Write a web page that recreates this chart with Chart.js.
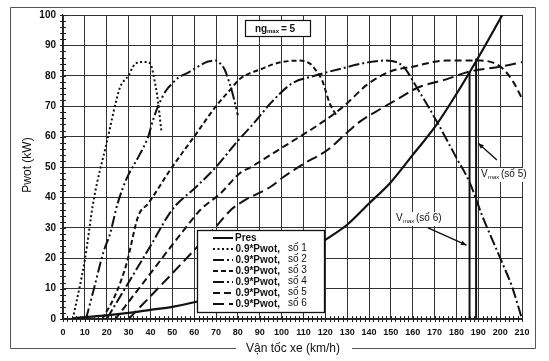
<!DOCTYPE html>
<html>
<head>
<meta charset="utf-8">
<script src="https://cdn.jsdelivr.net/npm/chart.js@4"></script>
<style>
  html, body { margin: 0; padding: 0; background: #fff; }
</style>
</head>
<body>
<canvas id="grafica" width="549" height="361"></canvas>
<script>
// Pres (resistance power)
const presV = [5, 10, 20, 30, 40, 50, 60, 70, 80, 90, 100, 110, 120, 130, 140, 150, 160, 170, 180, 190, 201];
const presP = [0.3, 0.6, 1.2, 2, 3, 4, 5.5, 7.5, 9.8, 12.8, 16.5, 21, 26, 31, 38, 45, 54, 63, 74, 86, 100];

// 0.9*Pwot per gear
const so1V = [4.5, 10, 14, 20, 26, 28, 30, 32, 35, 39, 40.5, 42, 43, 45];
const so1P = [0, 19.5, 39, 58, 76, 78.5, 80, 83, 84.5, 84.5, 83, 78, 74, 62];
const so2V = [10.5, 14, 18.5, 21.5, 25, 29, 35, 39, 41, 43.5, 47, 50, 53, 57, 63, 66, 70, 72, 74, 76, 78, 80];
const so2P = [0, 9.5, 22, 28, 38, 46, 54, 60, 65, 70, 75, 77.5, 79.5, 81, 83.5, 84.6, 85, 84, 82, 78, 73, 67];
const so3V = [18, 24, 29, 34.5, 39, 49, 61, 70, 76, 81, 86, 90, 95, 100, 108, 113, 116, 118.5, 122, 125];
const so3P = [0, 8, 18, 34, 38, 49, 61, 70, 75, 79, 81, 82, 83.5, 84.5, 85, 84, 81.5, 78.6, 71, 67];
const so4V = [20, 30, 40, 50, 61, 70, 79, 88, 95, 105, 113, 128, 140, 147, 155, 162, 171, 180, 186, 192, 201, 205.5, 210];
const so4P = [0, 12, 24, 36, 43.5, 50, 57.8, 65, 71, 77.6, 79.6, 82.5, 84.5, 85, 83.5, 76, 65, 53, 45, 33.6, 18.4, 10.5, 0];
const so5V = [24, 40, 55, 63, 72, 81, 86, 95, 105, 115, 125, 130, 139, 150, 160, 175, 185, 191, 196, 201, 206, 210];
const so5P = [0, 15, 29, 36, 41.3, 48, 50, 54, 58.5, 63, 68, 71, 77, 81.5, 83, 85, 85, 85, 84.5, 82.5, 78, 72.5];
const so6V = [30, 50, 70, 77, 83, 95, 101, 110, 121, 131, 136, 145, 154, 162, 176, 186, 200, 210];
const so6P = [0, 15, 30.4, 36, 39, 43.5, 46.8, 51, 55.6, 62, 65, 69, 72.7, 76, 79, 81.4, 83, 84.5];

// Vmax markers
const vmaxV = [186, 189];
const vmaxTop = [81.4, 85.7];

const xTicks = [0, 210, 10];
const yTicks = [0, 100, 10];

function puntos(vs, ps) {
    return vs.map((v, i) => ({ x: v, y: ps[i] }));
}

const negro = "#111";

const estilos = [
    { dash: [2, 2.5], width: 2 },
    { dash: [11, 3, 2, 3, 2, 3], width: 2 },
    { dash: [5, 3], width: 2 },
    { dash: [11, 3, 2, 3], width: 2 },
    { dash: [7, 4], width: 2 },
    { dash: [11, 5], width: 2 },
];
const gearV = [so1V, so2V, so3V, so4V, so5V, so6V];
const gearP = [so1P, so2P, so3P, so4P, so5P, so6P];

const datasets = [
    {
        label: "Pres",
        data: puntos(presV, presP),
        borderColor: negro,
        borderWidth: 2.2,
        pointRadius: 0,
        cubicInterpolationMode: "monotone",
    },
];
gearV.forEach((vs, i) => {
    datasets.push({
        label: "0.9*Pwot, số " + (i + 1),
        data: puntos(vs, gearP[i]),
        borderColor: negro,
        borderWidth: estilos[i].width,
        borderDash: estilos[i].dash,
        pointRadius: 0,
        cubicInterpolationMode: "monotone",
    });
});
vmaxV.forEach((v, i) => {
    datasets.push({
        label: "vmax" + i,
        data: [{ x: v, y: 0 }, { x: v, y: vmaxTop[i] }],
        borderColor: negro,
        borderWidth: 2,
        pointRadius: 0,
    });
});

function linea(ctx, x1, y1, x2, y2) {
    ctx.beginPath();
    ctx.moveTo(x1, y1);
    ctx.lineTo(x2, y2);
    ctx.stroke();
}

const decoracion = {
    id: "decoracion",
    beforeDraw(chart) {
        const ctx = chart.ctx;
        ctx.save();
        ctx.fillStyle = "#fff";
        ctx.fillRect(0, 0, chart.width, chart.height);
        ctx.restore();
    },
    afterDraw(chart) {
        const ctx = chart.ctx;
        const xs = chart.scales.x;
        const ys = chart.scales.y;
        const a = chart.chartArea;
        ctx.save();

        // marco exterior
        ctx.strokeStyle = "#555";
        ctx.lineWidth = 1;
        linea(ctx, 10.5, 7.5, 535.5, 7.5);
        linea(ctx, 10.5, 7.5, 10.5, 348.5);
        linea(ctx, 535.5, 7.5, 535.5, 348.5);
        linea(ctx, 10.5, 348.5, 236, 348.5);
        linea(ctx, 352, 348.5, 535.5, 348.5);

        // ticks menores
        ctx.strokeStyle = "#222";
        ctx.lineWidth = 1;
        for (let v = 0; v <= 210; v += 2) {
            const px = Math.round(xs.getPixelForValue(v)) + 0.5;
            linea(ctx, px, a.bottom - 3, px, a.bottom + 3);
        }
        for (let p = 0; p <= 100; p += 2) {
            const py = Math.round(ys.getPixelForValue(p)) + 0.5;
            linea(ctx, a.left - 3, py, a.left + 3, py);
        }

        // titulos de ejes
        ctx.fillStyle = "#111";
        ctx.font = "12px 'Liberation Sans', Arial, sans-serif";
        ctx.textAlign = "center";
        ctx.textBaseline = "middle";
        ctx.fillText("Vận tốc xe (km/h)", 293, 349);
        ctx.save();
        ctx.translate(28, 165);
        ctx.rotate(-Math.PI / 2);
        ctx.fillText("Pwot (kW)", 0, 0);
        ctx.restore();

        // recuadro ngmax
        ctx.fillStyle = "#fff";
        ctx.fillRect(245, 20, 65, 16);
        ctx.strokeStyle = "#111";
        ctx.lineWidth = 1.2;
        ctx.strokeRect(245.5, 20.5, 65, 16);
        ctx.fillStyle = "#111";
        ctx.textAlign = "left";
        ctx.textBaseline = "alphabetic";
        ctx.font = "bold 10px 'Liberation Sans', Arial, sans-serif";
        ctx.fillText("ng", 255, 32);
        ctx.font = "bold 6px 'Liberation Sans', Arial, sans-serif";
        ctx.fillText("max", 267, 33);
        ctx.font = "bold 10px 'Liberation Sans', Arial, sans-serif";
        ctx.fillText("= 5", 281, 32);

        // etiquetas Vmax
        const etiqueta = (x, y, num) => {
            ctx.fillStyle = "#fff";
            ctx.fillRect(x - 2, y - 9, 47, 14);
            ctx.fillStyle = "#111";
            ctx.font = "10px 'Liberation Sans', Arial, sans-serif";
            ctx.fillText("V", x, y);
            ctx.font = "6px 'Liberation Sans', Arial, sans-serif";
            ctx.fillText("max", x + 7, y + 2);
            ctx.font = "10px 'Liberation Sans', Arial, sans-serif";
            ctx.fillText("(số " + num + ")", x + 20, y);
        };
        etiqueta(481, 177, 5);
        etiqueta(396, 221, 6);

        // flechas
        const flecha = (v1, p1, v2, p2) => {
            const x1 = xs.getPixelForValue(v1), y1 = ys.getPixelForValue(p1);
            const x2 = xs.getPixelForValue(v2), y2 = ys.getPixelForValue(p2);
            ctx.strokeStyle = "#111";
            ctx.lineWidth = 1.4;
            linea(ctx, x1, y1, x2, y2);
            const ang = Math.atan2(y2 - y1, x2 - x1);
            ctx.beginPath();
            ctx.moveTo(x2, y2);
            ctx.lineTo(x2 - 6 * Math.cos(ang - 0.4), y2 - 6 * Math.sin(ang - 0.4));
            ctx.lineTo(x2 - 6 * Math.cos(ang + 0.4), y2 - 6 * Math.sin(ang + 0.4));
            ctx.closePath();
            ctx.fillStyle = "#111";
            ctx.fill();
        };
        flecha(198.5, 52.3, 190, 57.8);
        flecha(167, 30, 184.6, 24.3);

        // leyenda
        const lx = 197, ly = 230, lw = 127, lh = 82;
        ctx.fillStyle = "#fff";
        ctx.fillRect(lx, ly, lw, lh);
        ctx.strokeStyle = "#111";
        ctx.lineWidth = 1.3;
        ctx.strokeRect(lx + 0.5, ly + 0.5, lw, lh);
        ctx.fillStyle = "#111";
        const filas = [238, 249, 260, 271, 282, 293, 304];
        ctx.setLineDash([]);
        ctx.lineWidth = 2;
        linea(ctx, 213, filas[0], 233, filas[0]);
        ctx.font = "bold 10px 'Liberation Sans', Arial, sans-serif";
        ctx.textBaseline = "middle";
        ctx.textAlign = "left";
        ctx.fillText("Pres", 235, filas[0]);
        estilos.forEach((e, i) => {
            const y = filas[i + 1];
            ctx.setLineDash(e.dash);
            ctx.lineWidth = e.width;
            linea(ctx, 213, y, 233, y);
            ctx.setLineDash([]);
            ctx.font = "bold 10px 'Liberation Sans', Arial, sans-serif";
            ctx.textAlign = "right";
            ctx.fillText("0.9*Pwot,", 280, y);
            ctx.font = "10px 'Liberation Sans', Arial, sans-serif";
            ctx.textAlign = "left";
            ctx.fillText("số " + (i + 1), 288, y - 1);
        });
        ctx.restore();
    },
};

new Chart(document.getElementById("grafica"), {
    type: "line",
    data: { datasets: datasets },
    options: {
        responsive: false,
        animation: false,
        devicePixelRatio: 1,
        layout: { padding: { left: 0, right: 27, top: 15, bottom: 0 } },
        plugins: {
            legend: { display: false },
            tooltip: { enabled: false },
        },
        scales: {
            x: {
                type: "linear",
                min: xTicks[0],
                max: xTicks[1],
                afterFit: (s) => { s.height = 42; },
                ticks: {
                    stepSize: xTicks[2],
                    padding: 8,
                    color: "#111",
                    font: { family: "'Liberation Sans', Arial, sans-serif", size: 9, weight: "bold" },
                    maxRotation: 0,
                },
                grid: { color: "#333", lineWidth: 1, drawTicks: false },
                border: { color: "#222", width: 1.2 },
            },
            y: {
                type: "linear",
                min: yTicks[0],
                max: yTicks[1],
                afterFit: (s) => { s.width = 63; },
                ticks: {
                    stepSize: yTicks[2],
                    padding: 7,
                    color: "#111",
                    font: { family: "'Liberation Sans', Arial, sans-serif", size: 10, weight: "bold" },
                },
                grid: { color: "#333", lineWidth: 1, drawTicks: false },
                border: { color: "#222", width: 1.2 },
            },
        },
    },
    plugins: [decoracion],
});
</script>
</body>
</html>
